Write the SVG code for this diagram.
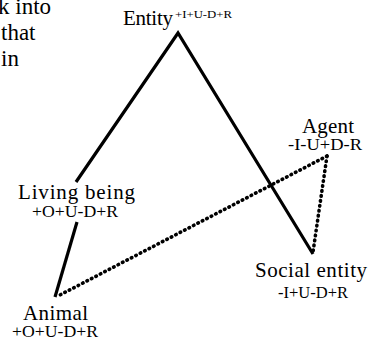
<svg xmlns="http://www.w3.org/2000/svg" width="370" height="344" viewBox="0 0 370 344">
<style>
text{font-family:"Liberation Serif","Times New Roman",serif;fill:#000}
.lbl{font-size:21px}
.sub{font-size:16px}
.body{font-size:23px}
.solid{fill:none;stroke:#000;stroke-width:3.2;stroke-linejoin:miter}
.dot{fill:none;stroke:#000;stroke-width:3.6;stroke-dasharray:0.6 4.4;stroke-linecap:round}
</style>
<rect width="370" height="344" fill="#fff"/>
<g id="bodytext">
<text class="body" x="-2" y="14">k into</text>
<text class="body" x="1" y="40">that</text>
<text class="body" x="1" y="66">in</text>
</g>
<g id="connectors">
<polyline class="solid" points="76,182 178,33 313,254"/>
<line class="solid" x1="77" y1="222" x2="55" y2="297"/>
<line class="dot" x1="327" y1="156" x2="58" y2="296"/>
<line class="dot" x1="327" y1="156" x2="313" y2="252"/>
</g>
<g id="entity">
<text class="lbl" x="123" y="25" textLength="50">Entity</text>
<text x="175" y="18" font-size="11" textLength="57" lengthAdjust="spacingAndGlyphs">+I+U-D+R</text>
</g>
<g id="living-being">
<text class="lbl" x="18" y="199" textLength="117">Living being</text>
<text class="sub" x="32" y="217" textLength="86" lengthAdjust="spacingAndGlyphs">+O+U-D+R</text>
</g>
<g id="agent">
<text class="lbl" x="302" y="133" textLength="52">Agent</text>
<text class="sub" x="288" y="150" textLength="74" lengthAdjust="spacingAndGlyphs">-I-U+D-R</text>
</g>
<g id="social-entity">
<text class="lbl" x="255" y="277" textLength="112">Social entity</text>
<text class="sub" x="278" y="298" textLength="70" lengthAdjust="spacingAndGlyphs">-I+U-D+R</text>
</g>
<g id="animal">
<text class="lbl" x="23" y="320" textLength="65">Animal</text>
<text class="sub" x="12" y="337" textLength="86" lengthAdjust="spacingAndGlyphs">+O+U-D+R</text>
</g>
</svg>
